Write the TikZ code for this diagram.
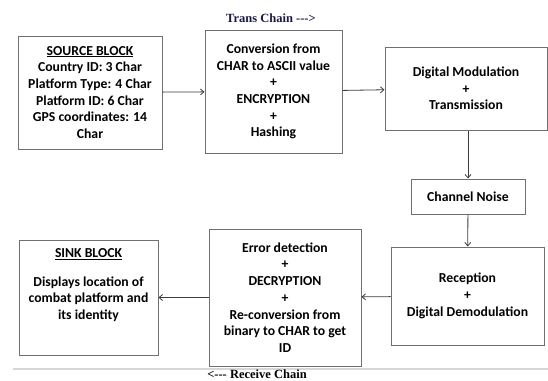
\documentclass[tikz,border=0pt]{standalone}
\usepackage{fontspec}
\usepackage{tikz}
\usetikzlibrary{arrows.meta}
\newfontfamily\blkfont{Carlito}
\newfontfamily\capfont{Liberation Serif}
\definecolor{boxgray}{RGB}{112,112,112}
\definecolor{arrowgray}{RGB}{60,60,60}
\definecolor{chainnavy}{RGB}{25,25,70}
\definecolor{rulegray}{RGB}{215,215,215}

\begin{document}
\begin{tikzpicture}[x=1pt, y=-1pt,
    blk/.style={draw=boxgray, line width=1pt, align=center, inner sep=2pt,
        font=\blkfont\bfseries\fontsize{13.7}{16.7}\selectfont},
    flow/.style={draw=arrowgray, line width=0.8pt, -{Straight Barb[length=3.5pt,width=6pt]}},
    chain/.style={font=\capfont\bfseries\fontsize{12.5}{14}\selectfont}]
    \useasboundingbox (0,0) rectangle (548,380);

    % Chaine d'emission
    \node[blk, minimum width=144pt, minimum height=113pt] (src) at (90,92.5)
        {\underline{SOURCE BLOCK}\\Country ID: 3 Char\\Platform Type: 4 Char\\Platform ID: 6 Char\\GPS coordinates: 14\\Char};
    \node[blk, minimum width=137pt, minimum height=123pt] (conv) at (273.5,91.5)
        {Conversion from\\CHAR to ASCII value\\+\\ENCRYPTION\\+\\Hashing};
    \node[blk, minimum width=162pt, minimum height=83pt] (mod) at (466,88.5)
        {Digital Modulation\\+\\Transmission};

    % Canal
    \node[blk, minimum width=114pt, minimum height=35pt] (noise) at (468,196.5)
        {Channel Noise};

    % Chaine de reception
    \node[blk, minimum width=153pt, minimum height=98pt] (recv) at (467.5,296)
        {Reception\\+\\Digital Demodulation};
    \node[blk, minimum width=152pt, minimum height=137pt] (err) at (285,297.5)
        {Error detection\\+\\DECRYPTION\\+\\Re-conversion from\\binary to CHAR to get\\ID};
    \node[blk, minimum width=139pt, minimum height=115pt] (sink) at (88.5,297.5)
        {\underline{SINK BLOCK}\\[12pt]Displays location of\\combat platform and\\its identity\\[10pt]};

    % Fleches
    \foreach \a/\b in {src/conv, conv/mod, noise/recv, recv/err, err/sink} {
        \draw[flow] (\a) -- (\b);
    }
    \draw[flow] (mod.south -| noise.north) -- (noise.north);

    % Titres des chaines
    \node[chain, text=chainnavy] (tx) at (271,18.5) {Trans Chain {-}{-}{-}>};
    \coordinate (ruleL) at (13,369);
    \coordinate (ruleR) at (548,369);
    \draw[rulegray, line width=1.2pt] (ruleL) -- (ruleR);
    \node[chain, anchor=base, inner sep=0pt] (rx) at (257,378) {<{-}{-}{-} Receive Chain};
\end{tikzpicture}
\end{document}
